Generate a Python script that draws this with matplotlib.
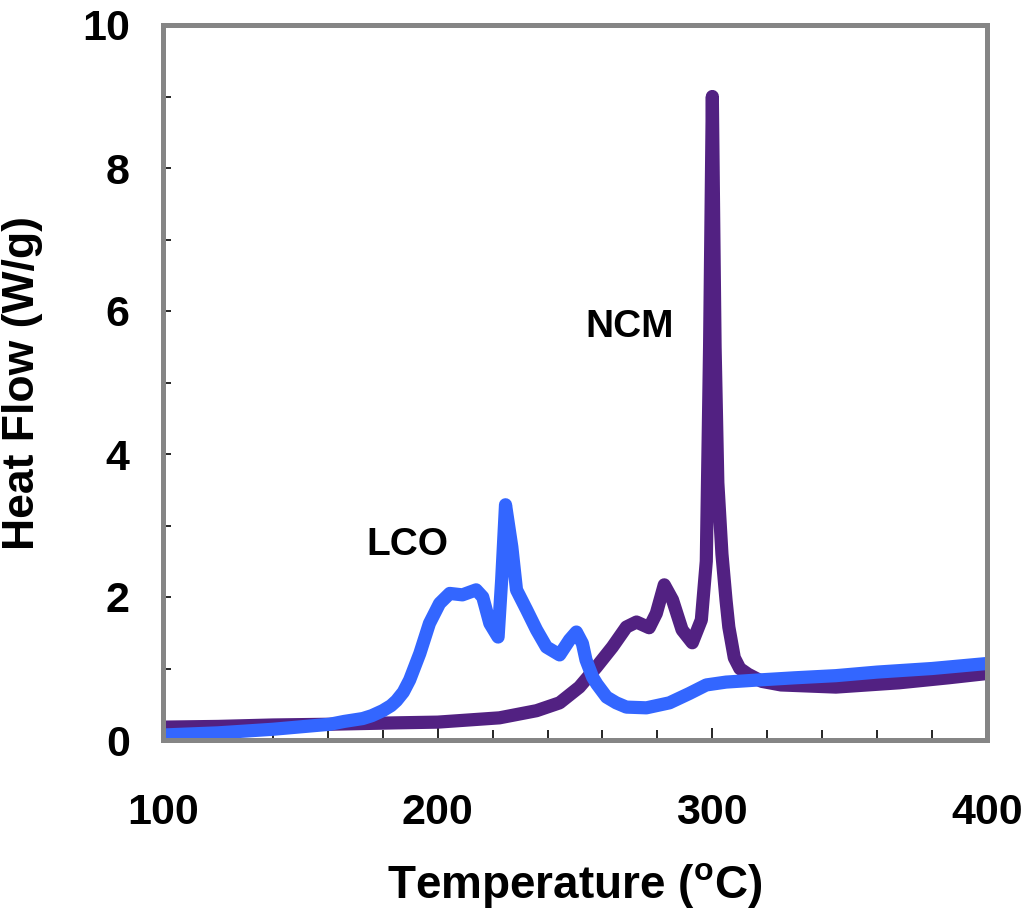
import matplotlib
matplotlib.use("Agg")
import matplotlib.pyplot as plt
from matplotlib.ticker import MultipleLocator

plt.rcParams['font.family'] = ['Liberation Sans', 'DejaVu Sans']
plt.rcParams['font.weight'] = 'bold'
plt.rcParams['mathtext.fontset'] = 'custom'
plt.rcParams['mathtext.rm'] = 'Liberation Sans:bold'
plt.rcParams['mathtext.bf'] = 'Liberation Sans:bold'
plt.rcParams['mathtext.default'] = 'bf'

# LCO curve (Temperature in °C, Heat flow in W/g)
lco_temp = [100, 120, 140, 160.7, 166, 172.7, 176, 180, 183, 185, 187.5, 189.8, 193.5, 197,
            200.7, 204.4, 209, 214, 216.4, 219, 222, 223.3, 224.7, 227, 228.7, 232.4, 236,
            239.6, 244.4, 248, 250.5, 252.7, 254, 256.4, 258, 261.5, 265, 268.7, 276, 284.4,
            291.6, 297.8, 305, 317, 330, 345, 360, 380, 400]
lco_flow = [0.07, 0.1, 0.15, 0.22, 0.26, 0.3, 0.34, 0.41, 0.48, 0.55, 0.67, 0.84, 1.21, 1.63,
            1.91, 2.05, 2.03, 2.1, 2.0, 1.63, 1.44, 2.24, 3.29, 2.7, 2.1, 1.82, 1.54,
            1.3, 1.19, 1.4, 1.51, 1.35, 1.12, 0.88, 0.78, 0.6, 0.52, 0.46, 0.45, 0.52,
            0.65, 0.77, 0.81, 0.84, 0.87, 0.9, 0.95, 1.0, 1.07]

# NCM curve
ncm_temp = [100, 120, 140, 160, 185, 200, 222.5, 236, 244.4, 251.6, 257.8, 263.6, 268.7,
            272.4, 277, 279.6, 282.5, 285.5, 289, 292.7, 296, 297.8, 299, 300, 301, 302,
            303.5, 305, 306, 308, 310, 313, 318, 325, 345, 368, 386, 400]
ncm_flow = [0.18, 0.19, 0.21, 0.22, 0.24, 0.25, 0.31, 0.41, 0.52, 0.74, 1.02, 1.3, 1.58,
            1.65, 1.57, 1.77, 2.17, 1.96, 1.54, 1.36, 1.68, 2.5, 5.5, 9.0, 5.5, 3.6,
            2.6, 1.95, 1.58, 1.15, 1.0, 0.92, 0.82, 0.77, 0.74, 0.8, 0.87, 0.93]

x_ticks = [100, 200, 300, 400]
y_ticks = [0, 2, 4, 6, 8, 10]

fig = plt.figure(figsize=(10.26, 9.15), dpi=100)
ax = fig.add_axes([163/1026, 1 - 740/915, (987-163)/1026, (740-25)/915])

ax.plot(ncm_temp, ncm_flow, color='#522182', lw=9.5, solid_joinstyle='round',
        solid_capstyle='round')
ax.plot(lco_temp, lco_flow, color='#3366FF', lw=9.5, solid_joinstyle='round',
        solid_capstyle='round')

ax.set_xlim(100, 400)
ax.set_ylim(0, 10)
ax.set_xticks(x_ticks)
ax.set_yticks(y_ticks)
ax.xaxis.set_minor_locator(MultipleLocator(20))
ax.yaxis.set_minor_locator(MultipleLocator(1))

ax.tick_params(axis='x', which='major', direction='in', length=9, width=1.2, color='black',
               labelsize=31, pad=38)
ax.tick_params(axis='x', which='minor', direction='in', length=7, width=1.2, color='black')
ax.tick_params(axis='y', which='major', direction='in', length=6, width=1.2, color='black',
               labelsize=31, pad=24)
ax.tick_params(axis='y', which='minor', direction='in', length=6, width=1.2, color='black')
for lab in ax.get_xticklabels() + ax.get_yticklabels():
    lab.set_fontweight('bold')

for sp in ax.spines.values():
    sp.set_color('#858585')
    sp.set_linewidth(3.6)

ax.set_xlabel(r'Temperature ($^{\mathbf{o}}$C)', fontsize=33, fontweight='bold', labelpad=20)
ax.set_ylabel('Heat Flow (W/g)', fontsize=32, fontweight='bold', labelpad=28)

ax.text(189, 2.73, 'LCO', fontsize=28, fontweight='bold', ha='center', va='center')
ax.text(270, 5.78, 'NCM', fontsize=28, fontweight='bold', ha='center', va='center')

fig.savefig('out.png', dpi=100)
